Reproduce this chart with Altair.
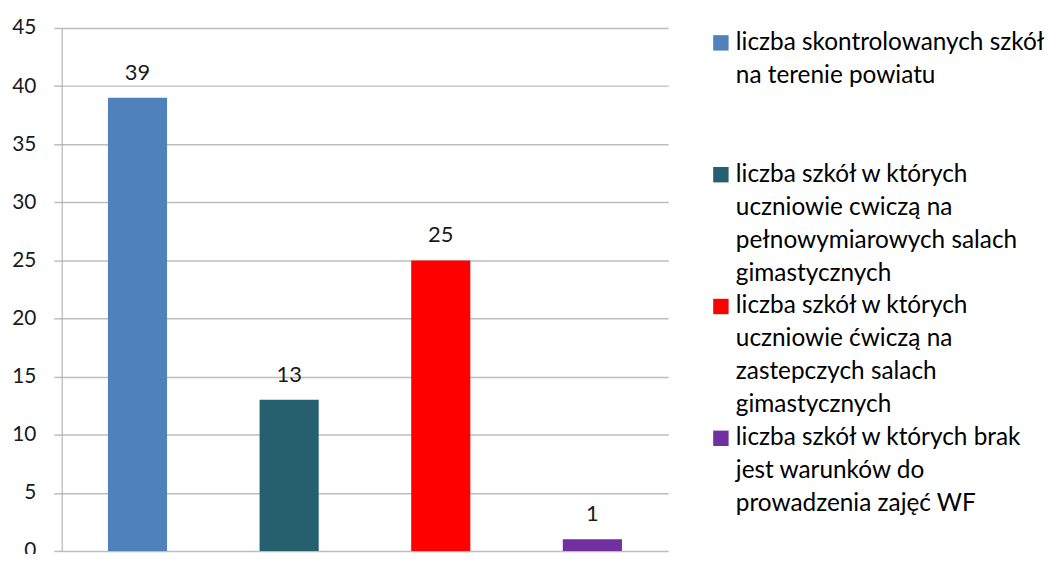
import altair as alt
import pandas as pd

# ---- data ----
categories = [
    "liczba skontrolowanych szkół na terenie powiatu",
    "liczba szkół w których uczniowie cwiczą na pełnowymiarowych salach gimastycznych",
    "liczba szkół w których uczniowie ćwiczą na zastepczych salach gimastycznych",
    "liczba szkół w których brak jest warunków do prowadzenia zajęć WF",
]
values = [39, 13, 25, 1]
colors = ["#4F81BD", "#26606E", "#FF0000", "#7030A0"]
legend_lines = [
    ["liczba skontrolowanych  szkół", "na terenie powiatu"],
    ["liczba szkół w których", "uczniowie cwiczą na", "pełnowymiarowych salach", "gimastycznych"],
    ["liczba szkół w których", "uczniowie ćwiczą na", "zastepczych salach", "gimastycznych"],
    ["liczba szkół w których brak", "jest warunków do", "prowadzenia zajęć WF"],
]
legend_start_line = [0, 4, 8, 12]
y_ticks = [0, 5, 10, 15, 20, 25, 30, 35, 40, 45]

FONT = "Lato"

df = pd.DataFrame({"cat": categories, "value": values})

rows = []
for cat, lines, start in zip(categories, legend_lines, legend_start_line):
    for j, t in enumerate(lines):
        rows.append({"cat": cat, "line": start + j, "text": t, "first": j == 0})
leg_df = pd.DataFrame(rows)

color_scale = alt.Scale(domain=categories, range=colors)

PLOT_H = 526

# ---- bar panel ----
base = alt.Chart(df).encode(
    x=alt.X("cat:N", sort=categories, axis=None,
            scale=alt.Scale(paddingInner=0.61, paddingOuter=0.305)),
)
bars = base.mark_bar().encode(
    y=alt.Y("value:Q",
            scale=alt.Scale(domain=[0, 45], nice=False),
            axis=alt.Axis(values=y_ticks, title=None, grid=True,
                          gridColor="#BDBDBD", gridWidth=1.5,
                          domainColor="#A6A6A6", domainWidth=1,
                          tickColor="#BDBDBD", tickSize=8, tickWidth=1.5,
                          labelFont=FONT, labelFontSize=21, labelColor="#1a1a1a",
                          labelPadding=18, minExtent=51, maxExtent=51)),
    color=alt.Color("cat:N", scale=color_scale, legend=None),
)
labels = base.mark_text(baseline="alphabetic", dy=-18, font=FONT,
                        fontSize=22, color="#1a1a1a").encode(
    y=alt.Y("value:Q"),
    text=alt.Text("value:Q"),
)
bar_panel = alt.layer(bars, labels).properties(width=610, height=PLOT_H)

# ---- legend panel ----
ly = alt.Y("line:Q", scale=alt.Scale(domain=[0, 14], range=[15, 479]), axis=None)
leg_text = alt.Chart(leg_df).mark_text(
    align="left", baseline="middle", font=FONT, fontSize=24.5, color="#000000"
).encode(x=alt.value(23), y=ly, text="text:N")
leg_sq = alt.Chart(leg_df).transform_filter("datum.first").mark_square(
    size=240, opacity=1
).encode(
    x=alt.value(8), y=ly,
    color=alt.Color("cat:N", scale=color_scale, legend=None),
)
legend_panel = alt.layer(leg_sq, leg_text).properties(width=300, height=PLOT_H)

chart = alt.hconcat(bar_panel, legend_panel, spacing=45).properties(
    padding={"left": 3, "top": 7.5, "right": 0, "bottom": -8.5},
    background="white",
).configure_view(stroke=None)

chart.save("out.html", embed_options={"renderer": "svg", "actions": False})
